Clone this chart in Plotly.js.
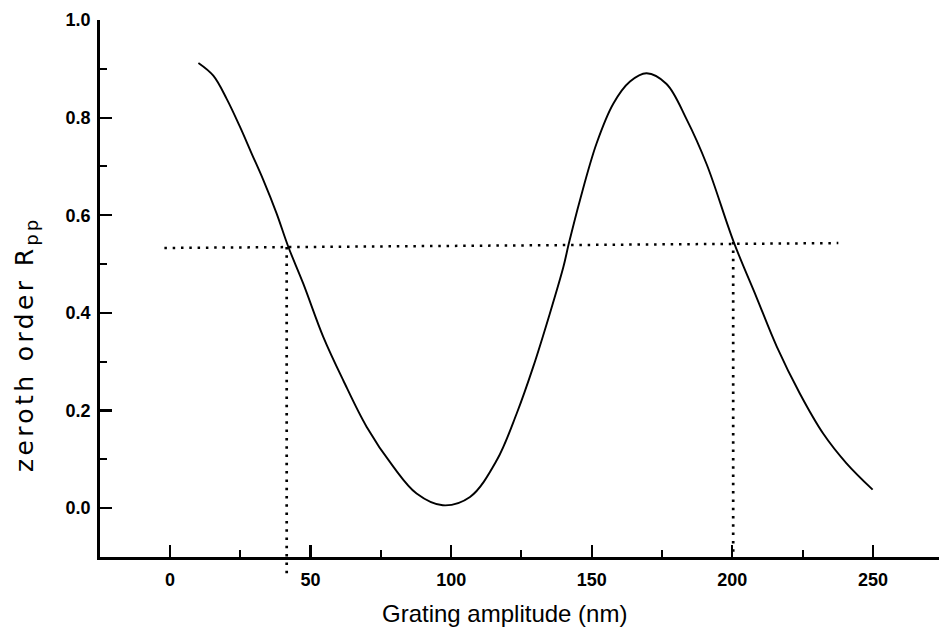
<!DOCTYPE html>
<html>
<head>
<meta charset="utf-8">
<script src="https://cdn.plot.ly/plotly-3.0.1.min.js"></script>
<style>
  html, body { margin: 0; padding: 0; background: #fff; }
  #chart { width: 939px; height: 629px; }
  /* the vertical label is set wide, with open letter spacing */
  .annotation[data-index="0"] text { letter-spacing: 3.4px; }
</style>
</head>
<body>
<div id="chart"></div>
<script>
// Zeroth-order p-polarised reflectance versus grating amplitude
const amplitudeNm = [10.1, 15.4, 20.2, 24.9, 29.0, 33.2, 37.9, 42.1, 47.4, 54.5,
                     61.6, 69.9, 79.4, 87.7, 97.0, 106.7, 116.2, 123.3, 129.2, 135.1,
                     139.9, 141.8, 145.8, 151.7, 157.7, 163.6, 169.5, 176.6, 183.7, 190.9,
                     200.5, 208.6, 215.8, 224.0, 232.3, 240.6, 249.9];
const reflectanceRpp = [0.912, 0.886, 0.838, 0.781, 0.727, 0.672, 0.604, 0.535, 0.460, 0.351,
                        0.262, 0.167, 0.085, 0.030, 0.006, 0.023, 0.098, 0.194, 0.290, 0.399,
                        0.494, 0.541, 0.631, 0.747, 0.829, 0.874, 0.891, 0.869, 0.797, 0.704,
                        0.545, 0.432, 0.331, 0.235, 0.153, 0.092, 0.038];

// Reference reflectance level and the two amplitudes where the curve meets it
const levelX = [-2, 237.7];
const levelR = [0.533, 0.543];
const markX = [41.5, 200.3];
const markTop = [0.535, 0.545];
const markBottom = [-0.142, -0.105];

// Axis ranges and ticks
const xRange = [-24.9, 273.5];
const yRange = [-0.1, 1.0];
const xTickStep = 50;
const xMinorStep = 25;
const yTickStep = 0.2;
const yMinorStep = 0.1;

const xTitle = 'Grating amplitude (nm)';
const yTitle = 'zeroth order R<sub>pp</sub>';

const ink = '#000';
const sans = 'Liberation Sans, Arial, sans-serif';
const tickFont = { family: sans, size: 18, color: ink, weight: 'bold' };

// y value -> paper fraction, so the guide lines can run past the x axis
const yToPaper = v => (v - yRange[0]) / (yRange[1] - yRange[0]);

const dotted = '2.5px,5.8px';
const shapes = [{
  type: 'line', xref: 'x', yref: 'y',
  x0: levelX[0], x1: levelX[1], y0: levelR[0], y1: levelR[1],
  line: { color: ink, width: 2.5, dash: dotted }
}];
markX.forEach((x, i) => {
  shapes.push({
    type: 'line', xref: 'x', yref: 'paper',
    x0: x, x1: x, y0: yToPaper(markTop[i]), y1: yToPaper(markBottom[i]),
    line: { color: ink, width: 2.7, dash: dotted }
  });
});

const traces = [{
  x: amplitudeNm,
  y: reflectanceRpp,
  type: 'scatter',
  mode: 'lines',
  line: { color: ink, width: 1.9, shape: 'spline', smoothing: 1.0 },
  hoverinfo: 'x+y'
}];

const layout = {
  width: 939,
  height: 629,
  margin: { l: 100, r: 0, t: 20, b: 72 },
  paper_bgcolor: '#fff',
  plot_bgcolor: '#fff',
  showlegend: false,
  shapes: shapes,
  annotations: [
    {
      text: yTitle, textangle: -90, showarrow: false,
      xref: 'paper', yref: 'paper', x: 0, y: 0.395,
      xanchor: 'center', yanchor: 'middle', xshift: -74,
      font: { family: 'DejaVu Sans, sans-serif', size: 25, color: ink }
    },
    {
      text: xTitle, showarrow: false,
      xref: 'paper', yref: 'paper', x: 0.482, y: 0,
      xanchor: 'center', yanchor: 'middle', yshift: -56,
      font: { family: sans, size: 24, color: ink }
    }
  ],
  xaxis: {
    range: xRange,
    tick0: 0, dtick: xTickStep,
    ticks: 'inside', ticklen: 12, tickwidth: 2.2, tickcolor: ink,
    minor: { dtick: xMinorStep, tick0: 0, ticks: 'inside', ticklen: 7, tickwidth: 2, tickcolor: ink, showgrid: false },
    showline: true, linewidth: 2.8, linecolor: ink,
    showgrid: false, zeroline: false,
    tickfont: tickFont,
    ticklabelstandoff: 5
  },
  yaxis: {
    range: yRange,
    tick0: 0, dtick: yTickStep, tickformat: '.1f',
    ticks: 'inside', ticklen: 12, tickwidth: 2.2, tickcolor: ink,
    minor: { dtick: yMinorStep, tick0: 0, ticks: 'inside', ticklen: 7, tickwidth: 2, tickcolor: ink, showgrid: false },
    showline: true, linewidth: 2.8, linecolor: ink,
    showgrid: false, zeroline: false,
    tickfont: tickFont,
    ticklabelstandoff: 3
  }
};

Plotly.newPlot('chart', traces, layout, { displayModeBar: false, staticPlot: true });
</script>
</body>
</html>
